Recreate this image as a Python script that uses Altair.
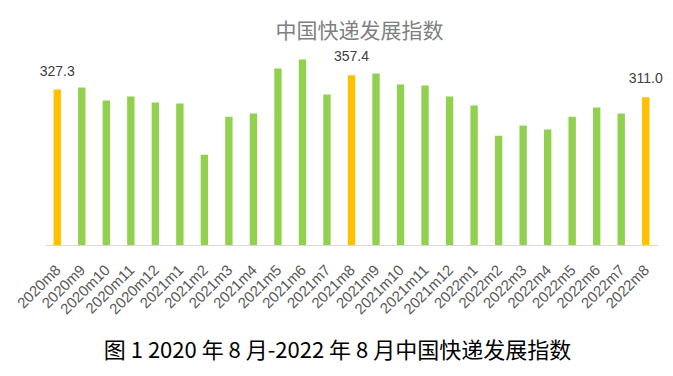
import altair as alt
import pandas as pd

months = ["2020m8", "2020m9", "2020m10", "2020m11", "2020m12", "2021m1", "2021m2",
          "2021m3", "2021m4", "2021m5", "2021m6", "2021m7", "2021m8", "2021m9",
          "2021m10", "2021m11", "2021m12", "2022m1", "2022m2", "2022m3", "2022m4",
          "2022m5", "2022m6", "2022m7", "2022m8"]
values = [327.3, 331.6, 304.0, 312.6, 300.0, 297.8, 190.0, 270.0, 276.7, 371.6,
          390.6, 316.8, 357.4, 361.0, 338.0, 335.8, 312.6, 293.6, 230.0, 251.4,
          243.0, 270.0, 289.4, 276.7, 311.0]
highlighted = ["2020m8", "2021m8", "2022m8"]

df = pd.DataFrame({"month": months, "value": values})
df["kind"] = ["hl" if m in highlighted else "normal" for m in months]
df["label"] = [f"{v:.1f}" for v in values]

x = alt.X("month:N", sort=months,
          scale=alt.Scale(paddingInner=0.7, paddingOuter=0.35),
          axis=alt.Axis(title="图 1  2020 年 8 月-2022 年 8 月中国快递发展指数",
                        titleFont="Noto Sans CJK SC", titleFontSize=22,
                        titleFontWeight="normal", titleColor="#000000",
                        titlePadding=24, titleX=292,
                        labelAngle=-45, labelFont="Liberation Sans", labelFontSize=15,
                        labelColor="#595959", labelPadding=17, labelOffset=-4,
                        ticks=False, domainColor="#d9d9d9", domainWidth=1))
y = alt.Y("value:Q", scale=alt.Scale(domain=[0, 400]), axis=None)

bars = alt.Chart(df).mark_bar().encode(
    x=x, y=y,
    color=alt.Color("kind:N", scale=alt.Scale(domain=["normal", "hl"],
                                              range=["#92D050", "#FFC000"]), legend=None),
)
text = alt.Chart(df).transform_filter(
    alt.FieldOneOfPredicate(field="month", oneOf=highlighted)
).mark_text(dy=-18, font="Liberation Sans", fontSize=14,
            color="#404040").encode(x=x, y=y, text="label:N")

chart = alt.layer(bars, text).properties(
    width=613, height=190,
    title=alt.TitleParams("中国快递发展指数", font="Noto Sans CJK SC", fontSize=21,
                          fontWeight="normal", color="#7f7f7f", offset=8,
                          frame="group", dx=8),
    autosize="none",
    padding={"left": 45, "top": 55, "right": 15, "bottom": 131},
).configure_view(stroke=None)

chart.save("out.html", embed_options={"renderer": "svg", "actions": False})
